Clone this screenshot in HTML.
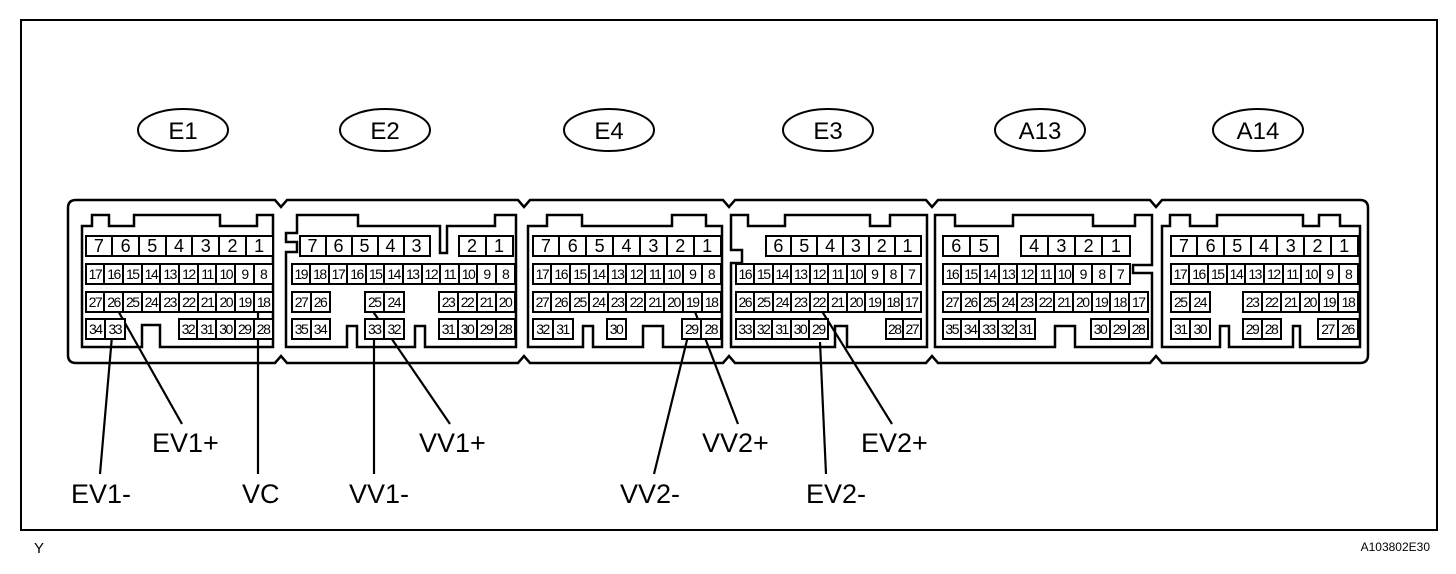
<!DOCTYPE html>
<html><head><meta charset="utf-8"><style>
body{margin:0;background:#fff;width:1456px;height:574px;position:relative;overflow:hidden;font-family:"Liberation Sans",sans-serif}
svg{position:absolute;left:0;top:0}
.r{position:absolute;display:flex;height:18px;border:2px solid #000;box-sizing:content-box;background:#fff;margin:-0.5px}
.r span{flex:1;border-left:2px solid #000;font-size:14px;line-height:18px;text-align:center;letter-spacing:-1.5px;overflow:hidden;white-space:nowrap}
.r span:first-child{border-left:none}
.r.b span{font-size:18px;letter-spacing:0}
</style></head><body>
<svg width="1456" height="574" viewBox="0 0 1456 574" fill="none" stroke="#000" stroke-width="2.5">
<rect x="21" y="20" width="1416" height="510" stroke-width="2"/>
<g stroke-width="2">
<ellipse cx="183" cy="130" rx="45" ry="21"/>
<ellipse cx="385" cy="130" rx="45" ry="21"/>
<ellipse cx="609" cy="130" rx="45" ry="21"/>
<ellipse cx="828" cy="130" rx="45" ry="21"/>
<ellipse cx="1040" cy="130" rx="45" ry="21"/>
<ellipse cx="1258" cy="130" rx="45" ry="21"/>
</g>
<path d="M76 200 H275 L281 207 L287 200 H518 L524 207 L530 200 H723 L729 207 L735 200 H926 L932 207 L938 200 H1150 L1156 207 L1162 200 H1360 Q1368 200 1368 208 V355 Q1368 363 1360 363 H1162 L1156 356 L1150 363 H938 L932 356 L926 363 H735 L729 356 L723 363 H530 L524 356 L518 363 H287 L281 356 L275 363 H76 Q68 363 68 355 V208 Q68 200 76 200 Z"/>
<path d="M82 226 H92 V215 H109 V226 H134 V215 H220 V226 H257 V215 H273 V347 H160 V325 H142 V347 H82 Z"/>
<path d="M286 242 V233 H297 V215 H358 V226 H440 V253 H447 V226 H495 V215 H516 V347 H425 V326 H415 V347 H357 V326 H347 V347 H286 V252 H297 V242 Z"/>
<path d="M528 226 H547 V215 H582 V226 H672 V215 H706 V226 H722 V347 H663 V326 H643 V347 H593 V326 H583 V347 H528 Z"/>
<path d="M731 226 V215 H748 V226 H785 V215 H870 V226 H890 V215 H927 V347 H847 V326 H835 V347 H731 V263 H742 V250 H731 Z"/>
<path d="M935 215 H955 V226 H1013 V215 H1093 V226 H1135 V215 H1152 V265 H1133 V273 H1152 V347 H1075 V326 H1055 V347 H935 Z"/>
<path d="M1162 226 H1170 V215 H1190 V226 H1217 V215 H1303 V226 H1319 V215 H1340 V226 H1360 V347 H1300 V326 H1293 V347 H1229 V326 H1220 V347 H1162 Z"/>
<path d="M112 336 L100 474 M112 300 L182 424 M258 300 V474 M374 318 V474 M372 310 L450 424 M688 336 L654 474 M692 304 L738 424 M820 342 L826 474 M820 308 L892 424" stroke-width="2.2"/>
<g fill="#000" stroke="none" font-family="Liberation Sans, sans-serif" font-size="27">
<text x="183" y="139" text-anchor="middle" font-size="24">E1</text>
<text x="385" y="139" text-anchor="middle" font-size="24">E2</text>
<text x="609" y="139" text-anchor="middle" font-size="24">E4</text>
<text x="828" y="139" text-anchor="middle" font-size="24">E3</text>
<text x="1040" y="139" text-anchor="middle" font-size="24">A13</text>
<text x="1258" y="139" text-anchor="middle" font-size="24">A14</text>
<text x="152" y="452">EV1+</text>
<text x="71" y="503">EV1-</text>
<text x="242" y="503">VC</text>
<text x="349" y="503">VV1-</text>
<text x="419" y="452">VV1+</text>
<text x="620" y="503">VV2-</text>
<text x="702" y="452">VV2+</text>
<text x="806" y="503">EV2-</text>
<text x="861" y="452">EV2+</text>
<text x="34" y="553" font-size="15">Y</text>
<text x="1430" y="551" font-size="12" text-anchor="end">A103802E30</text>
</g>
</svg>

<div class="r b" style="left:85px;top:235px;width:185px"><span>7</span><span>6</span><span>5</span><span>4</span><span>3</span><span>2</span><span>1</span></div>
<div class="r" style="left:85px;top:263px;width:185px"><span>17</span><span>16</span><span>15</span><span>14</span><span>13</span><span>12</span><span>11</span><span>10</span><span>9</span><span>8</span></div>
<div class="r" style="left:85px;top:291px;width:185px"><span>27</span><span>26</span><span>25</span><span>24</span><span>23</span><span>22</span><span>21</span><span>20</span><span>19</span><span>18</span></div>
<div class="r" style="left:85px;top:318px;width:37px"><span>34</span><span>33</span></div>
<div class="r" style="left:178px;top:318px;width:92px"><span>32</span><span>31</span><span>30</span><span>29</span><span>28</span></div>
<div class="r b" style="left:299px;top:235px;width:128px"><span>7</span><span>6</span><span>5</span><span>4</span><span>3</span></div>
<div class="r b" style="left:458px;top:235px;width:52px"><span>2</span><span>1</span></div>
<div class="r" style="left:291px;top:263px;width:221px"><span>19</span><span>18</span><span>17</span><span>16</span><span>15</span><span>14</span><span>13</span><span>12</span><span>11</span><span>10</span><span>9</span><span>8</span></div>
<div class="r" style="left:291px;top:291px;width:36px"><span>27</span><span>26</span></div>
<div class="r" style="left:364px;top:291px;width:37px"><span>25</span><span>24</span></div>
<div class="r" style="left:438px;top:291px;width:74px"><span>23</span><span>22</span><span>21</span><span>20</span></div>
<div class="r" style="left:291px;top:318px;width:36px"><span>35</span><span>34</span></div>
<div class="r" style="left:364px;top:318px;width:37px"><span>33</span><span>32</span></div>
<div class="r" style="left:438px;top:318px;width:74px"><span>31</span><span>30</span><span>29</span><span>28</span></div>
<div class="r b" style="left:532px;top:235px;width:186px"><span>7</span><span>6</span><span>5</span><span>4</span><span>3</span><span>2</span><span>1</span></div>
<div class="r" style="left:532px;top:263px;width:186px"><span>17</span><span>16</span><span>15</span><span>14</span><span>13</span><span>12</span><span>11</span><span>10</span><span>9</span><span>8</span></div>
<div class="r" style="left:532px;top:291px;width:186px"><span>27</span><span>26</span><span>25</span><span>24</span><span>23</span><span>22</span><span>21</span><span>20</span><span>19</span><span>18</span></div>
<div class="r" style="left:532px;top:318px;width:38px"><span>32</span><span>31</span></div>
<div class="r" style="left:606px;top:318px;width:17px"><span>30</span></div>
<div class="r" style="left:681px;top:318px;width:37px"><span>29</span><span>28</span></div>
<div class="r b" style="left:765px;top:235px;width:153px"><span>6</span><span>5</span><span>4</span><span>3</span><span>2</span><span>1</span></div>
<div class="r" style="left:735px;top:263px;width:183px"><span>16</span><span>15</span><span>14</span><span>13</span><span>12</span><span>11</span><span>10</span><span>9</span><span>8</span><span>7</span></div>
<div class="r" style="left:735px;top:291px;width:183px"><span>26</span><span>25</span><span>24</span><span>23</span><span>22</span><span>21</span><span>20</span><span>19</span><span>18</span><span>17</span></div>
<div class="r" style="left:735px;top:318px;width:90px"><span>33</span><span>32</span><span>31</span><span>30</span><span>29</span></div>
<div class="r" style="left:885px;top:318px;width:33px"><span>28</span><span>27</span></div>
<div class="r b" style="left:942px;top:235px;width:53px"><span>6</span><span>5</span></div>
<div class="r b" style="left:1020px;top:235px;width:107px"><span>4</span><span>3</span><span>2</span><span>1</span></div>
<div class="r" style="left:942px;top:263px;width:185px"><span>16</span><span>15</span><span>14</span><span>13</span><span>12</span><span>11</span><span>10</span><span>9</span><span>8</span><span>7</span></div>
<div class="r" style="left:942px;top:291px;width:203px"><span>27</span><span>26</span><span>25</span><span>24</span><span>23</span><span>22</span><span>21</span><span>20</span><span>19</span><span>18</span><span>17</span></div>
<div class="r" style="left:942px;top:318px;width:90px"><span>35</span><span>34</span><span>33</span><span>32</span><span>31</span></div>
<div class="r" style="left:1090px;top:318px;width:55px"><span>30</span><span>29</span><span>28</span></div>
<div class="r b" style="left:1170px;top:235px;width:185px"><span>7</span><span>6</span><span>5</span><span>4</span><span>3</span><span>2</span><span>1</span></div>
<div class="r" style="left:1170px;top:263px;width:185px"><span>17</span><span>16</span><span>15</span><span>14</span><span>13</span><span>12</span><span>11</span><span>10</span><span>9</span><span>8</span></div>
<div class="r" style="left:1170px;top:291px;width:37px"><span>25</span><span>24</span></div>
<div class="r" style="left:1242px;top:291px;width:113px"><span>23</span><span>22</span><span>21</span><span>20</span><span>19</span><span>18</span></div>
<div class="r" style="left:1170px;top:318px;width:37px"><span>31</span><span>30</span></div>
<div class="r" style="left:1242px;top:318px;width:36px"><span>29</span><span>28</span></div>
<div class="r" style="left:1317px;top:318px;width:38px"><span>27</span><span>26</span></div>
</body></html>
